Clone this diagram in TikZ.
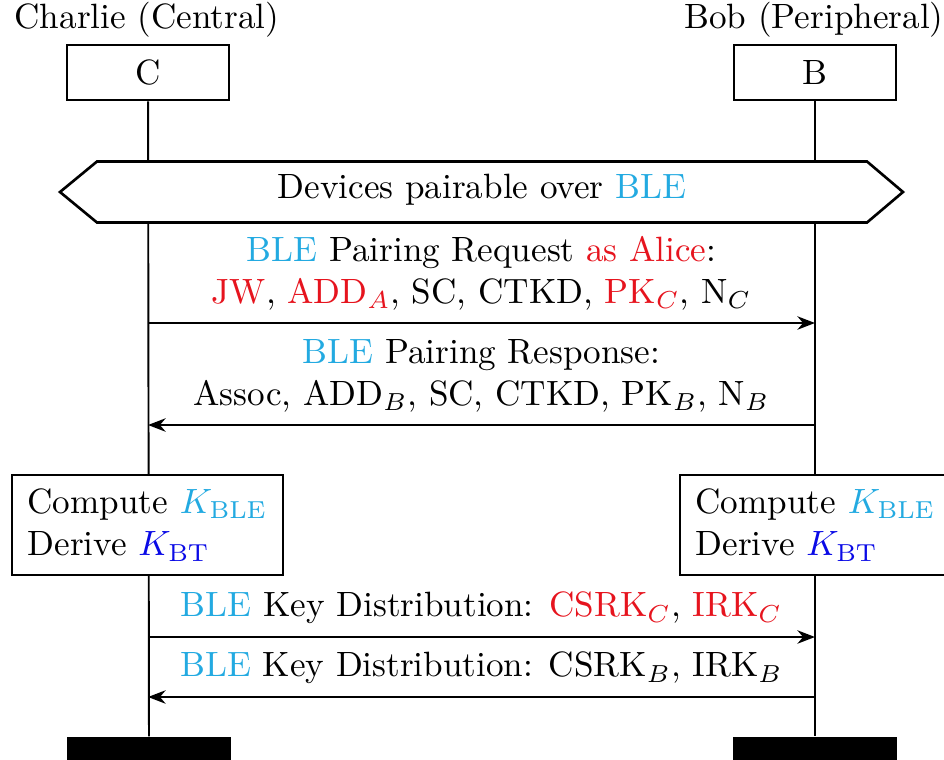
\documentclass[tikz,border=0pt]{standalone}
\usetikzlibrary{arrows.meta}
\definecolor{blecyan}{RGB}{35,170,225}
\definecolor{alicered}{RGB}{230,20,30}
\definecolor{btblue}{RGB}{10,10,230}
\newcommand{\ble}{\textcolor{blecyan}{BLE}}
\newcommand{\alc}[1]{\textcolor{alicered}{#1}}
\tikzstyle{inst} = [draw, rectangle, line width=0.75pt, minimum width=1.62cm, minimum height=0.55cm, fill=white]
\tikzstyle{head} = [inner sep=0pt]
\tikzstyle{action} = [draw, rectangle, line width=0.75pt, minimum width=2.71cm, minimum height=1cm, align=left, fill=white]
\tikzstyle{frame} = [draw, line width=0.75pt, fill=white]
\tikzstyle{msg} = [->, line width=0.65pt]
\tikzstyle{life} = [line width=0.55pt]
\tikzstyle{stop} = [fill=black, rectangle, minimum width=1.64cm, minimum height=0.25cm, inner sep=0pt]

\begin{document}
\begin{tikzpicture}[>={Stealth[length=5pt,width=3.8pt,inset=1.6pt]},auto]
\useasboundingbox (0,0) rectangle (9.44,-7.59);
\node [head] (charlie) at (1.47,-0.20) {Charlie (Central)};
\node [head] (bob) at (8.14,-0.20) {Bob (Peripheral)};
\node [inst] (C) at (1.48,-0.725) {C};
\node [inst] (B) at (8.15,-0.725) {B};
\node [stop] (Cend) at (1.49,-7.495) {};
\node [stop] (Bend) at (8.15,-7.495) {};
\draw [life] (C) -- (Cend);
\draw [life] (B) -- (Bend);

\draw [frame] (0.60,-1.92) -- (0.97,-1.615) -- (8.67,-1.615) -- (9.03,-1.92) -- (8.67,-2.225) -- (0.97,-2.225) -- cycle;
\node (pair) at (4.82,-1.90) {Devices pairable over \ble};

\coordinate (c1) at (1.48,-3.23);
\coordinate (b1) at (8.15,-3.23);
\coordinate (c2) at (1.48,-4.25);
\coordinate (b2) at (8.15,-4.25);
\coordinate (c3) at (1.48,-6.37);
\coordinate (b3) at (8.15,-6.37);
\coordinate (c4) at (1.48,-6.97);
\coordinate (b4) at (8.15,-6.97);

\draw [msg] (c1) -- node[above, align=center] {\ble{} Pairing Request \alc{as Alice}:\\ \alc{JW}, \alc{ADD$_A$}, SC, CTKD, \alc{PK$_C$}, N$_C$} (b1);
\draw [msg] (b2) -- node[above, align=center] {\ble{} Pairing Response:\\ Assoc, ADD$_B$, SC, CTKD, PK$_B$, N$_B$} (c2);

\node [action] (ckey) at (1.475,-5.25) {Compute \textcolor{blecyan}{$K_{\mathrm{BLE}}$}\\ Derive \textcolor{btblue}{$K_{\mathrm{BT}}$}};
\node [action] (bkey) at (8.155,-5.25) {Compute \textcolor{blecyan}{$K_{\mathrm{BLE}}$}\\ Derive \textcolor{btblue}{$K_{\mathrm{BT}}$}};

\draw [msg] (c3) -- node[above] {\ble{} Key Distribution: \alc{CSRK$_C$}, \alc{IRK$_C$}} (b3);
\draw [msg] (b4) -- node[above] {\ble{} Key Distribution: CSRK$_B$, IRK$_B$} (c4);
\end{tikzpicture}
\end{document}
